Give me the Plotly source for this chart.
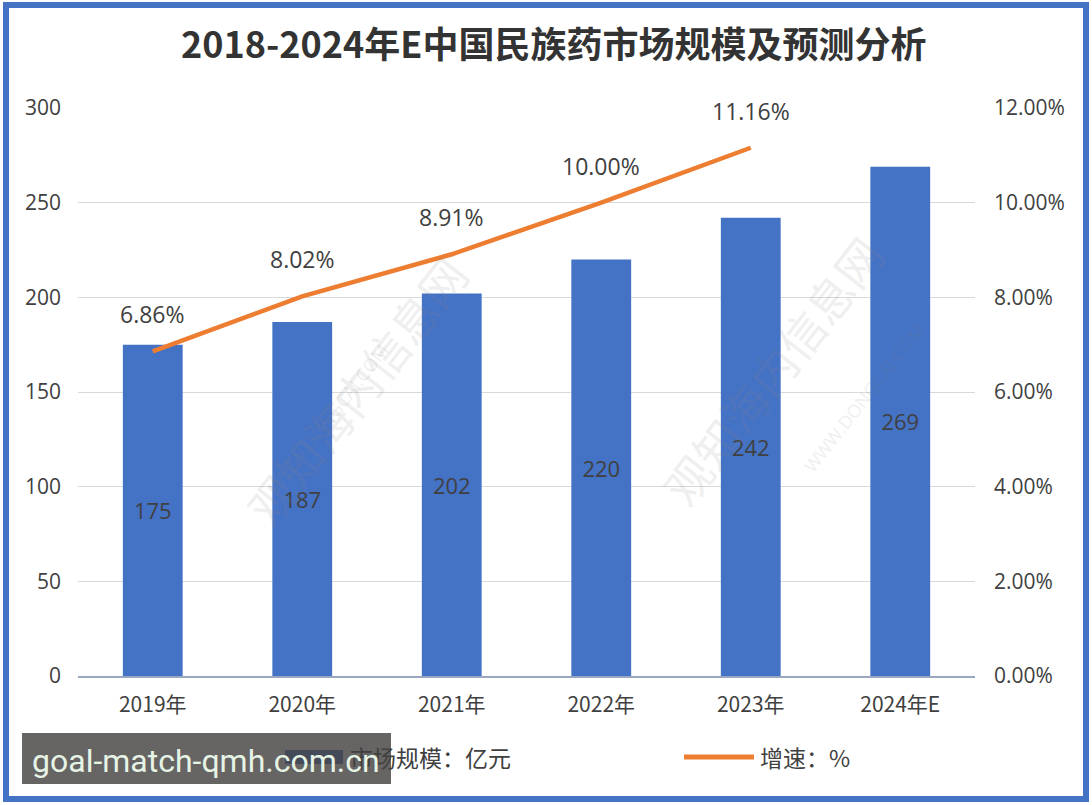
import plotly.graph_objects as go

categories = ["2019年", "2020年", "2021年", "2022年", "2023年", "2024年E"]
market_size = [175, 187, 202, 220, 242, 269]
growth_cats = ["2019年", "2020年", "2021年", "2022年", "2023年"]
growth_rate = [0.0686, 0.0802, 0.0891, 0.1000, 0.1116]
growth_labels = ["6.86%", "8.02%", "8.91%", "10.00%", "11.16%"]
left_ticks = [0, 50, 100, 150, 200, 250, 300]
right_ticks = [0, 0.02, 0.04, 0.06, 0.08, 0.10, 0.12]
right_tick_labels = ["0.00%", "2.00%", "4.00%", "6.00%", "8.00%", "10.00%", "12.00%"]
title_text = "2018-2024年E中国民族药市场规模及预测分析"
legend_bar = "市场规模：亿元"
legend_line = "增速：%"
overlay_text = "goal-match-qmh.com.cn"

W, H = 1092, 805
L, R, T, B = 78, 975, 108, 676
BLUE = "#4472C4"
ORANGE = "#ED7D31"
TXT = "#404040"
FONT = "Open Sans, Noto Sans CJK SC, sans-serif"
CJK = "Noto Sans CJK SC, sans-serif"

def px(x):
    return (x - L) / (R - L)

def py(y):
    return (B - y) / (B - T)

fig = go.Figure()
fig.add_trace(go.Bar(
    x=categories, y=market_size, name=legend_bar,
    marker=dict(color=BLUE, line=dict(width=0)),
    text=[str(v) for v in market_size], textposition="inside",
    insidetextanchor="middle", textangle=0,
    textfont=dict(size=22, color=TXT, family=FONT),
    cliponaxis=False,
))
fig.add_trace(go.Scatter(
    x=growth_cats, y=growth_rate, name=legend_line, yaxis="y2",
    mode="lines", line=dict(color=ORANGE, width=4.5),
))

annotations = []
for c, v, t in zip(growth_cats, growth_rate, growth_labels):
    annotations.append(dict(x=c, y=v, xref="x", yref="y2", text=t, showarrow=False,
                            yshift=37, font=dict(size=23, color=TXT, family=FONT)))

# title
annotations.append(dict(x=px(553), y=py(42), xref="paper", yref="paper", text="<b>" + title_text + "</b>",
                        showarrow=False, font=dict(size=36, color="#333333", family=CJK),
                        xanchor="center", yanchor="middle"))

# watermarks
for (wx, wy) in [(228, 390), (900, 370)]:
    annotations.append(dict(x=px(wx), y=py(wy), xref="paper", yref="paper", text="观知海内信息网",
                            showarrow=False, textangle=-52, opacity=0.13,
                            font=dict(size=46, color="#888888", family=CJK)))
    annotations.append(dict(x=px(wx + 32), y=py(wy + 28), xref="paper", yref="paper", text="WWW.DONGCAI.COM",
                            showarrow=False, textangle=-52, opacity=0.13,
                            font=dict(size=18, color="#888888", family=FONT)))

# legend text
annotations.append(dict(x=px(348), y=py(757), xref="paper", yref="paper", text=legend_bar, showarrow=False,
                        xanchor="left", yanchor="middle",
                        font=dict(size=23, color=TXT, family=CJK)))
annotations.append(dict(x=px(758), y=py(757), xref="paper", yref="paper", text=legend_line, showarrow=False,
                        xanchor="left", yanchor="middle",
                        font=dict(size=23, color=TXT, family=CJK)))

shapes = [
    dict(type="rect", xref="paper", yref="paper", x0=px(6), x1=px(1086), y0=py(5), y1=py(799),
         line=dict(color=BLUE, width=6), fillcolor="rgba(0,0,0,0)", layer="above"),
    dict(type="rect", xref="paper", yref="paper", x0=px(285), x1=px(343), y0=py(750), y1=py(764),
         fillcolor=BLUE, line=dict(width=0)),
    dict(type="line", xref="paper", yref="paper", x0=px(684), x1=px(754), y0=py(757), y1=py(757),
         line=dict(color=ORANGE, width=5)),
    dict(type="rect", xref="paper", yref="paper", x0=px(22), x1=px(391), y0=py(733), y1=py(784),
         fillcolor="rgba(70,66,66,0.82)", line=dict(width=0), layer="above"),
]
annotations.append(dict(x=px(30), y=py(761), xref="paper", yref="paper", text=overlay_text, showarrow=False,
                        xanchor="left", yanchor="middle",
                        font=dict(size=32, color="#E6F4E6", family="Roboto, sans-serif")))

fig.update_layout(
    width=W, height=H,
    margin=dict(l=L, r=W - R, t=T, b=H - B, pad=0),
    paper_bgcolor="white", plot_bgcolor="white",
    showlegend=False,
    bargap=0.6,
    font=dict(family=FONT, color=TXT),
    xaxis=dict(type="category", showgrid=False, showline=True, linecolor="#9aa7c0", linewidth=1.5,
               ticks="", tickfont=dict(size=21, color=TXT, family=CJK),
               ticklabelstandoff=9),
    yaxis=dict(range=[0, 300], tickvals=left_ticks, showgrid=True, gridcolor="#D9D9D9", gridwidth=1,
               zeroline=False, showline=False, ticks="", tickfont=dict(size=21, color=TXT),
               ticklabelstandoff=16),
    yaxis2=dict(range=[0, 0.12], tickvals=right_ticks, ticktext=right_tick_labels, overlaying="y", side="right",
                showgrid=False, zeroline=False, showline=False, ticks="", tickfont=dict(size=21, color=TXT),
                ticklabelstandoff=18),
    annotations=annotations,
    shapes=shapes,
)

fig.write_html("out.html")
